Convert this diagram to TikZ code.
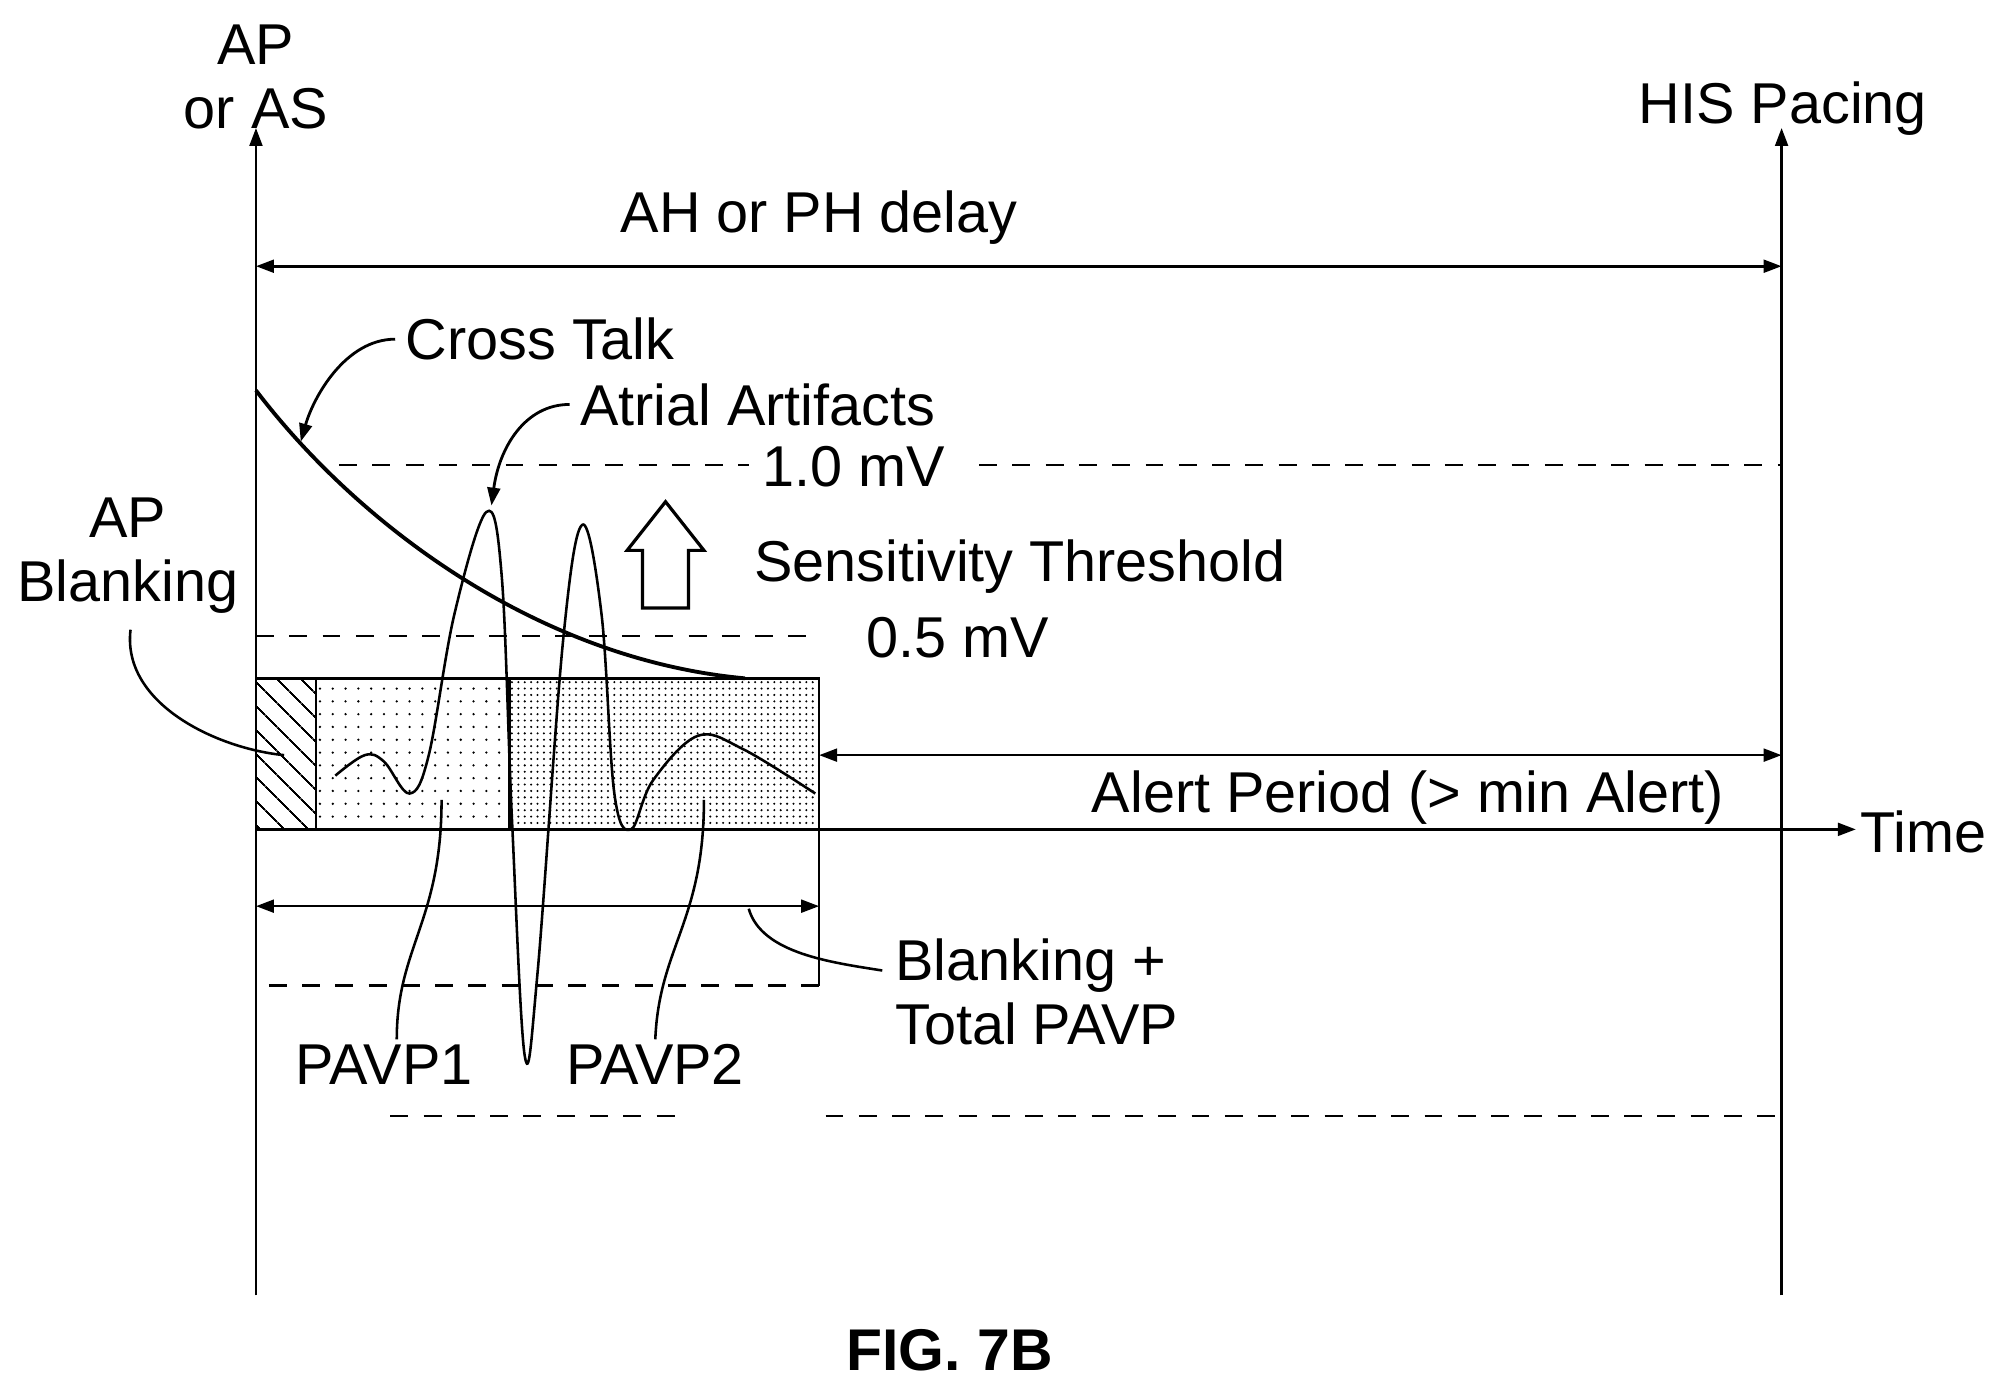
\documentclass[tikz,border=0pt]{standalone}
\usepackage{fontspec}
\setmainfont{Liberation Sans}
\usetikzlibrary{arrows.meta,patterns.meta,calc}
\begin{document}
\begin{tikzpicture}[x=1pt,y=-1pt,
  lbl/.style={font=\fontsize{45}{50}\selectfont,inner sep=0pt,align=center},
  ln/.style={line width=2pt},
  arr/.style={ln,-{Triangle[length=14pt,width=10pt]}},
  darr/.style={ln,{Triangle[length=14pt,width=10pt]}-{Triangle[length=14pt,width=10pt]}},
  dsh/.style={line width=1.6pt,dash pattern=on 14pt off 12pt},
  lead/.style={line width=2pt}]
\useasboundingbox (0,0) rectangle (1565,1088);
% texts
\node[lbl] (apas) at (200,60) {AP\\or AS};
\node[lbl] (his) at (1393,85) {HIS Pacing};
\node[lbl] (ah) at (640,170) {AH or PH delay};
\node[lbl] (ct) at (422,265) {Cross Talk};
\node[lbl] (aa) at (592,316) {Atrial Artifacts};
\node[lbl] (v1) at (667,365) {1.0 mV};
\node[lbl] (st) at (797,443) {Sensitivity Threshold};
\node[lbl] (v05) at (748,498) {0.5 mV};
\node[lbl] (apb) at (100,434) {AP\\Blanking};
\node[lbl] (al) at (1100,623) {Alert Period (> min Alert)};
\node[lbl] (time) at (1503,650) {Time};
\node[lbl,align=left] (bt) at (810,775) {Blanking +\\Total PAVP};
\node[lbl] (p1) at (300,832) {PAVP1};
\node[lbl] (p2) at (512,832) {PAVP2};
\node[lbl,font=\bfseries\fontsize{46}{50}\selectfont] (fig) at (742,1055) {FIG. 7B};
% coordinates
\coordinate (L0) at (200,1012); \coordinate (L1) at (200,100);
\coordinate (R0) at (1392,1012); \coordinate (R1) at (1392,100);
\coordinate (T0) at (200,648); \coordinate (T1) at (1450,648);
% box
\fill[pattern={Lines[angle=-45,distance=13pt,line width=1.5pt]}] (200,530) rectangle (247,648);
\fill[pattern={Dots[distance=10pt,radius=1pt]}] (247,530) rectangle (398,648);
\fill[pattern={Dots[distance=5pt,radius=0.9pt]}] (398,530) rectangle (640,648);
\draw[ln] (200,530) rectangle (640,648);
\draw[ln] (247,530) -- (247,648) (398,530) -- (398,648);
\draw[ln] (640,648) -- (640,770);
% axes
\draw[arr] (L0) -- (L1);
\draw[arr] (R0) -- (R1);
\draw[arr] (T0) -- (T1);
\draw[darr] (200,208) -- (1392,208);
\draw[darr] (640,590) -- (1392,590);
\draw[darr] (200,708) -- (640,708);
% dashed thresholds
\draw[dsh] (265,363) -- (585,363) (765,363) -- (1392,363);
\draw[dsh] (200,497) -- (640,497);
\draw[dsh] (210,770) -- (640,770);
\draw[dsh] (305,872) -- (530,872) (645,872) -- (1392,872);
% cross talk
\draw[line width=3pt] (200,305) .. controls (280,410) and (420,515) .. (582,530);
% waveform
\draw[line width=2pt] plot[smooth,tension=0.6] coordinates {(262,606) (285,590) (300,595) (320,620) (335,590) (355,480) (380,400) (392,450) (400,640) (410,825) (420,760) (440,500) (455,410) (470,480) (480,620) (493,648) (510,610) (545,575) (580,585) (637,620)};
% big hollow arrow
\draw[line width=2.5pt,fill=white] (502,475) -- (502,430) -- (490,430) -- (520,392) -- (550,430) -- (538,430) -- (538,475) -- cycle;
% leaders
\draw[arr,line width=2.2pt] ($(ct.west)+(-8,0)$) .. controls (270,265) and (245,310) .. (235,345);
\draw[arr,line width=2.2pt] ($(aa.west)+(-8,0)$) .. controls (410,316) and (390,350) .. (384,395);
\draw[lead] (102,492) .. controls (95,550) and (170,585) .. (222,590);
\draw[lead] (345,625) .. controls (345,720) and (310,740) .. (310,812);
\draw[lead] (550,625) .. controls (550,720) and (515,740) .. (512,812);
\draw[lead] (585,710) .. controls (595,745) and (650,752) .. ($(bt.north west)+(-10,25)$);
\end{tikzpicture}
\end{document}
